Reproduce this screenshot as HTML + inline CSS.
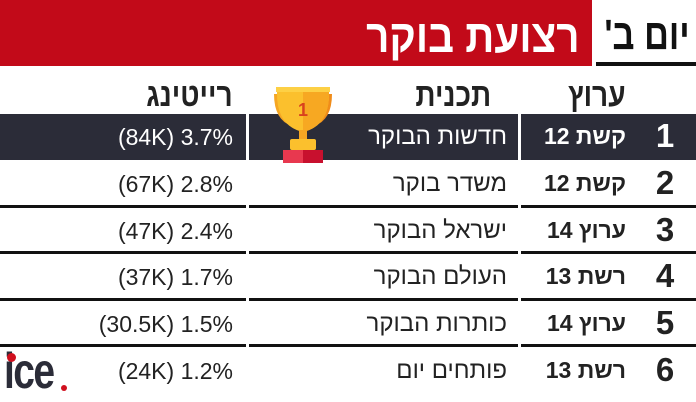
<!DOCTYPE html>
<html><head><meta charset="utf-8"><style>
body{margin:0;width:696px;height:402px;background:#fff;position:relative;overflow:hidden;font-family:"Liberation Sans","Noto Sans CJK SC",sans-serif;color:#222}
.a{position:absolute;white-space:nowrap}
.hd{font-weight:bold;font-size:33px;transform:scaleX(.85);transform-origin:right center}
.dark{position:absolute;top:114px;height:46px;background:#2b2c38}
.ln{position:absolute;height:3px;background:#111}
.t{font-size:24px;direction:rtl}
.r{font-size:23px;direction:ltr;text-align:right}
.c{font-size:23px;font-weight:bold;direction:rtl}
.n{font-size:33px;font-weight:bold;width:30px;text-align:center}
</style></head><body>
<div class="a" style="left:0;top:0;width:592px;height:66px;background:#c20a19"></div>
<div class="a hd" style="right:116px;top:9px;color:#fff;font-size:46px;transform:scaleX(.88);direction:rtl">רצועת בוקר</div>
<div class="a hd" style="right:6px;top:11px;color:#111;font-size:43px;transform:scaleX(.8);direction:rtl">יום ב'</div>
<div class="a" style="left:596px;top:62px;width:100px;height:4px;background:#111"></div>
<div class="a hd" style="right:70px;top:76px;direction:rtl">ערוץ</div>
<div class="a hd" style="right:205px;top:76px;direction:rtl">תכנית</div>
<div class="a hd" style="right:463px;top:76px;direction:rtl">רייטינג</div>
<div class="dark" style="left:0;width:246px"></div>
<div class="dark" style="left:249px;width:269px"></div>
<div class="dark" style="left:521px;width:175px"></div>
<div class="ln" style="left:0;width:246px;top:205px"></div><div class="ln" style="left:249px;width:269px;top:205px"></div><div class="ln" style="left:521px;width:175px;top:205px"></div>
<div class="ln" style="left:0;width:246px;top:251px"></div><div class="ln" style="left:249px;width:269px;top:251px"></div><div class="ln" style="left:521px;width:175px;top:251px"></div>
<div class="ln" style="left:0;width:246px;top:298px"></div><div class="ln" style="left:249px;width:269px;top:298px"></div><div class="ln" style="left:521px;width:175px;top:298px"></div>
<div class="ln" style="left:0;width:246px;top:344px"></div><div class="ln" style="left:249px;width:269px;top:344px"></div><div class="ln" style="left:521px;width:175px;top:344px"></div>
<svg class="a" style="left:268px;top:86px" width="70" height="78" viewBox="0 0 70 78">
<path d="M6 8 h10 v4 h-6 q2 18 16 24 l-2 4 q-18-6 -18-32z" fill="#f5a623"/>
<path d="M64 8 h-10 v4 h6 q-2 18 -16 24 l2 4 q18-6 18-32z" fill="#f08c1a"/>
<path d="M9 2 h52 v6 q0 32 -26 38 q-26-6 -26-38z" fill="#fbc02d"/>
<path d="M35 2 h26 v6 q0 32 -26 38z" fill="#f7a822"/>
<rect x="8" y="1" width="54" height="5" fill="#fdd045"/>
<rect x="31" y="44" width="8" height="10" fill="#f5a623"/>
<rect x="22" y="53" width="26" height="11" rx="2" fill="#fbc02d"/>
<rect x="15" y="64" width="40" height="13" fill="#e8384f"/>
<rect x="35" y="64" width="20" height="13" fill="#c8102e"/>
<text x="35" y="30" font-size="18" font-weight="bold" fill="#d9411e" text-anchor="middle" font-family="Liberation Sans">1</text>
</svg>
<div class="a n" style="left:650px;top:117px;color:#fff">1</div>
<div class="a c" style="right:70px;top:123px;color:#fff">קשת 12</div>
<div class="a t" style="right:189px;top:123px;color:#fff">חדשות הבוקר</div>
<div class="a r" style="right:463px;top:124px;color:#fff">(84K) 3.7%</div>

<div class="a n" style="left:650px;top:164px">2</div>
<div class="a c" style="right:70px;top:170px">קשת 12</div>
<div class="a t" style="right:189px;top:170px">משדר בוקר</div>
<div class="a r" style="right:463px;top:171px">(67K) 2.8%</div>

<div class="a n" style="left:650px;top:211px">3</div>
<div class="a c" style="right:70px;top:217px">ערוץ 14</div>
<div class="a t" style="right:189px;top:217px">ישראל הבוקר</div>
<div class="a r" style="right:463px;top:218px">(47K) 2.4%</div>

<div class="a n" style="left:650px;top:257px">4</div>
<div class="a c" style="right:70px;top:263px">רשת 13</div>
<div class="a t" style="right:189px;top:263px">העולם הבוקר</div>
<div class="a r" style="right:463px;top:264px">(37K) 1.7%</div>

<div class="a n" style="left:650px;top:304px">5</div>
<div class="a c" style="right:70px;top:310px">ערוץ 14</div>
<div class="a t" style="right:189px;top:310px">כותרות הבוקר</div>
<div class="a r" style="right:463px;top:311px">(30.5K) 1.5%</div>

<div class="a n" style="left:650px;top:351px">6</div>
<div class="a c" style="right:70px;top:357px">רשת 13</div>
<div class="a t" style="right:189px;top:357px">פותחים יום</div>
<div class="a r" style="right:463px;top:358px">(24K) 1.2%</div>

<div class="a" style="left:4px;top:342px;font-size:50px;font-weight:bold;color:#2b2c38;transform:scaleX(.78);transform-origin:left;letter-spacing:-2px">ice</div>
<div class="a" style="left:7px;top:353px;width:9px;height:9px;border-radius:50%;background:#d0101e"></div>
<div class="a" style="left:61px;top:385px;width:6px;height:6px;border-radius:50%;background:#d0101e"></div>
</body></html>
